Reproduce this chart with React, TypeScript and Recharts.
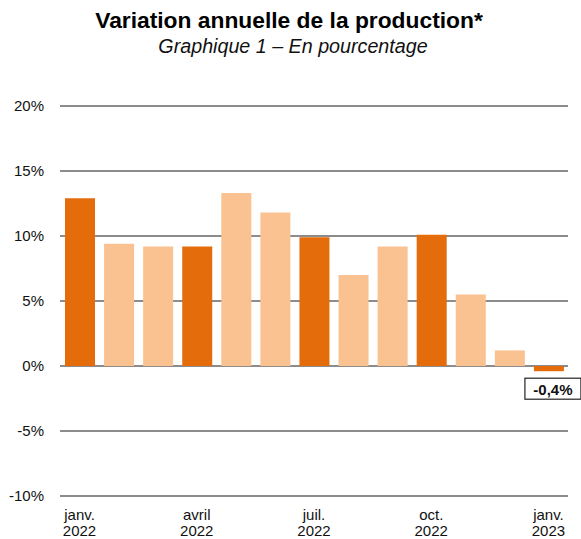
import React from "react";
import { BarChart, Bar, XAxis, YAxis, CartesianGrid, Cell, LabelList } from "recharts";

const months = [
  "janv. 2022", "févr. 2022", "mars 2022", "avril 2022", "mai 2022", "juin 2022",
  "juil. 2022", "août 2022", "sept. 2022", "oct. 2022", "nov. 2022", "déc. 2022", "janv. 2023",
];
const variation = [12.9, 9.4, 9.2, 9.2, 13.3, 11.8, 9.9, 7.0, 9.2, 10.1, 5.5, 1.2, -0.4];
const quarterStart = [true, false, false, true, false, false, true, false, false, true, false, false, true];
const tickLine1 = ["janv.", "", "", "avril", "", "", "juil.", "", "", "oct.", "", "", "janv."];
const tickLine2 = ["2022", "", "", "2022", "", "", "2022", "", "", "2022", "", "", "2023"];
const yTicks = [-10, -5, 0, 5, 10, 15, 20];
const labelledIndex = 12;

const title = "Variation annuelle de la production*";
const subtitle = "Graphique 1 – En pourcentage";

const DARK = "#E46C0A";
const LIGHT = "#FAC191";
const FONT = "'Liberation Sans', Arial, sans-serif";

const data = months.map((m, i) => ({ month: m, value: variation[i], quarter: quarterStart[i] }));

const XTick = (props: any) => {
  const { x, y, payload } = props;
  const i = payload.index;
  if (!tickLine1[i]) return null;
  return (
    <g>
      <text x={x} y={y + 23.5} textAnchor="middle" fontFamily={FONT} fontSize={15} fill="#111">
        {tickLine1[i]}
      </text>
      <text x={x} y={y + 39.5} textAnchor="middle" fontFamily={FONT} fontSize={15} fill="#111">
        {tickLine2[i]}
      </text>
    </g>
  );
};

const ValueLabel = (props: any) => {
  const { x, y, width, height, value, index } = props;
  if (index !== labelledIndex) return null;
  const bottom = Math.max(y, y + height);
  const cx = x + width / 2 + 4;
  const text = `${String(value).replace(".", ",")}%`;
  return (
    <g>
      <rect x={cx - 28} y={bottom + 7} width={56} height={21} fill="#fff" stroke="#222" strokeWidth={1.2} />
      <text x={cx} y={bottom + 23.5} textAnchor="middle" fontFamily={FONT} fontSize={15} fontWeight="bold" fill="#111">
        {text}
      </text>
    </g>
  );
};

export default function App() {
  return (
    <div style={{ position: "absolute", left: 0, top: 0, width: 581, height: 539, background: "#fff" }}>
      <svg width={581} height={60} style={{ position: "absolute", left: 0, top: 0 }}>
        <text x={289} y={28} textAnchor="middle" fontFamily={FONT} fontSize={22.8} fontWeight="bold" fill="#000">
          {title}
        </text>
        <text x={293} y={53} textAnchor="middle" fontFamily={FONT} fontSize={19.7} fontStyle="italic" fill="#111">
          {subtitle}
        </text>
      </svg>
      <div style={{ position: "absolute", left: 0, top: 0 }}>
        <BarChart width={581} height={539} data={data} margin={{ top: 106, right: 13, bottom: 0, left: 0 }}>
          <CartesianGrid vertical={false} stroke="#8c8c8c" strokeWidth={2} />
          <XAxis
            dataKey="month"
            axisLine={false}
            tickLine={false}
            tickSize={0}
            tickMargin={0}
            height={43}
            interval={0}
            tick={<XTick />}
          />
          <YAxis
            domain={[-10, 20]}
            ticks={yTicks}
            axisLine={false}
            tickLine={false}
            tickSize={6}
            tickMargin={10}
            width={60}
            tickFormatter={(v: number) => `${v}%`}
            tick={{ fontFamily: FONT, fontSize: 15, fill: "#111" }}
          />
          <Bar dataKey="value" barSize={30} isAnimationActive={false}>
            {data.map((d, i) => (
              <Cell key={i} fill={d.quarter ? DARK : LIGHT} />
            ))}
            <LabelList dataKey="value" content={<ValueLabel />} />
          </Bar>
        </BarChart>
      </div>
    </div>
  );
}
